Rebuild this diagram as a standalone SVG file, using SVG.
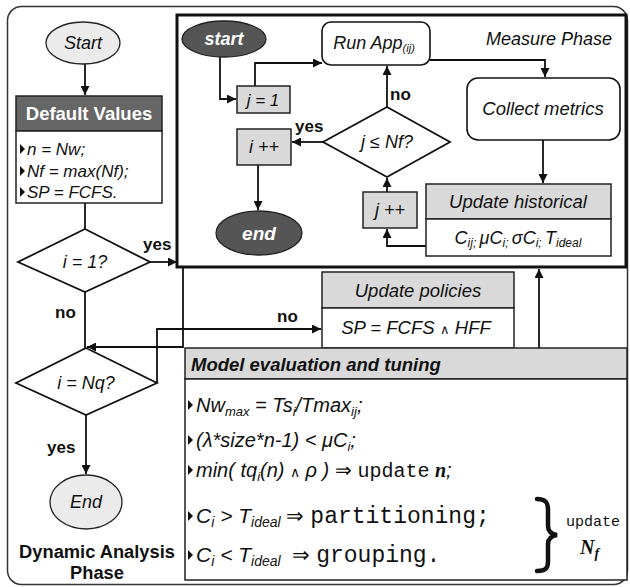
<svg xmlns="http://www.w3.org/2000/svg" width="630" height="587" viewBox="0 0 630 587">
  <style>
    .t { font-family: "Liberation Sans", Arial, sans-serif; fill: #111; }
    .it { font-style: italic; }
    .b { font-weight: bold; }
    .mono { font-family: "Liberation Mono", "Courier New", monospace; font-style: normal; }
    .ln { fill: none; stroke: #111; stroke-width: 1.8; }
    .box { stroke: #222; stroke-width: 1.5; }
    .lite { fill: #d9d9d9; }
    .wh { fill: #fff; }
  </style>
  <defs>
    <marker id="arr" viewBox="0 0 10 10" refX="10" refY="5" markerWidth="9" markerHeight="9" markerUnits="userSpaceOnUse" orient="auto">
      <path d="M0,0 L10,5 L0,10 z" fill="#111"/>
    </marker>
    <polygon id="bul" points="0,-5 5,0 0,5" fill="#111"/>
  </defs>

  <rect width="630" height="587" fill="#fff"/>

  <!-- outer frame of the dynamic analysis phase -->
  <rect id="frame" x="7.5" y="6.5" width="620" height="578" rx="14" fill="none" stroke="#333" stroke-width="1.5"/>

  <!-- measure phase container -->
  <g id="measure-phase">
    <rect x="177" y="15" width="449" height="252" fill="#fff" stroke="#111" stroke-width="3"/>
    <text class="t it" x="612" y="45" font-size="18" text-anchor="end">Measure Phase</text>
  </g>

  <!-- connectors -->
  <g id="connectors">
    <!-- left column -->
    <path class="ln" d="M85,64 V95" marker-end="url(#arr)"/>
    <path class="ln" d="M85,203 V229"/>
    <path class="ln" d="M150,262 H177" marker-end="url(#arr)"/>
    <path class="ln" d="M85,292 V348"/>
    <path class="ln" d="M183,268 V347 H87" marker-end="url(#arr)"/>
    <path class="ln" d="M157,383 V329 H321" marker-end="url(#arr)"/>
    <path class="ln" d="M86,415 V474" marker-end="url(#arr)"/>
    <!-- policies to model, model back to measure -->
    <path class="ln" d="M509,338 V362" marker-end="url(#arr)"/>
    <path class="ln" d="M539,348 V269" marker-end="url(#arr)"/>
    <!-- measure phase internals -->
    <path class="ln" d="M220,57 V99 H236" marker-end="url(#arr)"/>
    <path class="ln" d="M255,86 V63 H322" marker-end="url(#arr)"/>
    <path class="ln" d="M430,60 H545 V77" marker-end="url(#arr)"/>
    <path class="ln" d="M543,140 V183" marker-end="url(#arr)"/>
    <path class="ln" d="M426,246 H387 V229" marker-end="url(#arr)"/>
    <path class="ln" d="M387,192 V178" marker-end="url(#arr)"/>
    <path class="ln" d="M387,107 V66" marker-end="url(#arr)"/>
    <path class="ln" d="M323,142 H292" marker-end="url(#arr)"/>
    <path class="ln" d="M258,165 V210" marker-end="url(#arr)"/>
  </g>

  <!-- connector labels -->
  <g id="labels" class="t b" font-size="17">
    <text x="143" y="250">yes</text>
    <text x="55" y="318">no</text>
    <text x="277" y="322">no</text>
    <text x="47" y="453">yes</text>
    <text x="390" y="100">no</text>
    <text x="295" y="132">yes</text>
  </g>

  <!-- left column nodes -->
  <g id="start">
    <ellipse cx="83" cy="43" rx="37" ry="21" fill="#ebebeb" stroke="#222" stroke-width="1.3"/>
    <text class="t it" x="83" y="49" font-size="18" text-anchor="middle">Start</text>
  </g>

  <g id="default-values">
    <rect x="16" y="96" width="146" height="35" fill="#666" class="box"/>
    <text class="t b" x="89" y="120" font-size="18.5" text-anchor="middle" style="fill:#fff">Default Values</text>
    <rect x="16" y="131" width="146" height="72" class="box wh"/>
    <use href="#bul" x="20" y="149"/>
    <use href="#bul" x="20" y="171"/>
    <use href="#bul" x="20" y="192"/>
    <g class="t it" font-size="17">
      <text x="27" y="155">n = Nw;</text>
      <text x="27" y="177">Nf = max(Nf);</text>
      <text x="27" y="198">SP = FCFS.</text>
    </g>
  </g>

  <g id="cond-i1">
    <polygon points="85,229 150,262 85,292 18,262" fill="#fff" stroke="#111" stroke-width="1.8"/>
    <text class="t it" x="85" y="268" font-size="18" text-anchor="middle">i = 1?</text>
  </g>

  <g id="cond-inq">
    <polygon points="86,348 157,383 86,415 16,383" fill="#fff" stroke="#111" stroke-width="1.8"/>
    <text class="t it" x="86" y="389" font-size="18" text-anchor="middle">i = Nq?</text>
  </g>

  <g id="end">
    <ellipse cx="86" cy="502" rx="36" ry="27" fill="#ebebeb" stroke="#222" stroke-width="1.3"/>
    <text class="t it" x="86" y="508" font-size="18" text-anchor="middle">End</text>
  </g>

  <g id="phase-title" class="t b" font-size="18.3" text-anchor="middle">
    <text x="97" y="558">Dynamic Analysis</text>
    <text x="97" y="579">Phase</text>
  </g>

  <!-- measure phase nodes -->
  <g id="m-start">
    <ellipse cx="224" cy="39" rx="42" ry="18" fill="#555" stroke="#222" stroke-width="1.3"/>
    <text class="t it b" x="224" y="45" font-size="18" text-anchor="middle" style="fill:#fff">start</text>
  </g>

  <g id="j-init">
    <rect x="237" y="86" width="53" height="27" class="box lite"/>
    <text class="t it" x="263" y="106" font-size="17" text-anchor="middle">j = 1</text>
  </g>

  <g id="run-app">
    <rect x="322" y="22" width="108" height="43" rx="9" fill="#fff" stroke="#111" stroke-width="1.6"/>
    <text class="t it" x="374" y="49" font-size="18" text-anchor="middle">Run App<tspan font-size="11" dy="3">(ij)</tspan></text>
  </g>

  <g id="collect">
    <rect x="467" y="78" width="153" height="62" rx="11" fill="#fff" stroke="#111" stroke-width="1.6"/>
    <text class="t it" x="543" y="115" font-size="18.5" text-anchor="middle">Collect metrics</text>
  </g>

  <g id="cond-j">
    <polygon points="387,107 450,142 387,177 323,142" fill="#fff" stroke="#111" stroke-width="1.8"/>
    <text class="t it" x="387" y="148" font-size="18" text-anchor="middle">j ≤ Nf?</text>
  </g>

  <g id="i-inc">
    <rect x="237" y="129" width="54" height="36" class="box lite"/>
    <text class="t it" x="264" y="153" font-size="18" text-anchor="middle">i ++</text>
  </g>

  <g id="j-inc">
    <rect x="363" y="192" width="54" height="36" class="box lite"/>
    <text class="t it" x="390" y="216" font-size="18" text-anchor="middle">j ++</text>
  </g>

  <g id="m-end">
    <ellipse cx="259" cy="233" rx="43" ry="22" fill="#555" stroke="#222" stroke-width="1.3"/>
    <text class="t it b" x="259" y="240" font-size="19" text-anchor="middle" style="fill:#fff">end</text>
  </g>

  <g id="historical">
    <rect x="426" y="184" width="185" height="35" class="box lite"/>
    <text class="t it" x="518" y="208" font-size="18.5" text-anchor="middle">Update historical</text>
    <rect x="426" y="219" width="185" height="37" class="box wh"/>
    <text class="t it" x="518" y="244" font-size="18" text-anchor="middle">C<tspan font-size="12" dy="3">ij; </tspan><tspan dy="-3">μC</tspan><tspan font-size="12" dy="3">i; </tspan><tspan dy="-3">σC</tspan><tspan font-size="12" dy="3">i; </tspan><tspan dy="-3">T</tspan><tspan font-size="12" dy="3">ideal</tspan></text>
  </g>

  <!-- policy update -->
  <g id="policies">
    <rect x="322" y="272" width="192" height="36" class="box lite"/>
    <text class="t it" x="418" y="297" font-size="18.5" text-anchor="middle">Update policies</text>
    <rect x="322" y="308" width="192" height="40" class="box wh"/>
    <text class="t it" x="416" y="334" font-size="18.5" text-anchor="middle">SP = FCFS <tspan font-size="13" font-style="normal">∧</tspan> HFF</text>
  </g>

  <!-- model evaluation and tuning -->
  <g id="model">
    <rect x="185" y="348" width="442" height="31" class="box lite"/>
    <text class="t it b" x="191" y="371" font-size="18.5">Model evaluation and tuning</text>
    <rect x="185" y="379" width="442" height="201" class="box wh"/>
    <use href="#bul" x="188" y="405"/>
    <use href="#bul" x="188" y="440"/>
    <use href="#bul" x="188" y="470"/>
    <use href="#bul" x="188" y="516"/>
    <use href="#bul" x="188" y="555"/>
    <g class="t it" font-size="20">
      <text x="196" y="412">Nw<tspan font-size="13" dy="4">max</tspan><tspan dy="-4"> = Ts</tspan><tspan font-size="13" dy="4">i</tspan><tspan dy="-4">/Tmax</tspan><tspan font-size="13" dy="4">ij</tspan><tspan dy="-4">;</tspan></text>
      <text x="196" y="447">(λ*size*n-1) &lt; μC<tspan font-size="13" dy="4">i</tspan><tspan dy="-4">;</tspan></text>
      <text x="196" y="477">min( tq<tspan font-size="13" dy="4">i</tspan><tspan dy="-4">(n) </tspan><tspan font-size="14" font-style="normal">∧</tspan> ρ ) <tspan font-style="normal">⇒</tspan> <tspan class="mono" font-size="20">update</tspan> <tspan font-family="Liberation Serif, serif" font-weight="bold">n</tspan>;</text>
    </g>
    <g class="t it" font-size="21">
      <text x="196" y="523">C<tspan font-size="14" dy="4">i</tspan><tspan dy="-4"> &gt; T</tspan><tspan font-size="14" dy="4">ideal</tspan><tspan dy="-4" font-style="normal"> ⇒ </tspan><tspan class="mono" font-size="23">partitioning;</tspan></text>
      <text x="196" y="562">C<tspan font-size="14" dy="4">i</tspan><tspan dy="-4"> &lt; T</tspan><tspan font-size="14" dy="4">ideal</tspan><tspan dy="-4" font-style="normal">&#160; ⇒ </tspan><tspan class="mono" font-size="23">grouping.</tspan></text>
    </g>
    <!-- brace grouping the last two rules -->
    <path d="M537,499 C546,499 548,503 548,510 L548,526 C548,531 551,534 557,535 C551,536 548,539 548,544 L548,561 C548,568 546,571 537,571" fill="none" stroke="#111" stroke-width="4.5" stroke-linecap="round"/>
    <text class="t mono" x="566" y="526" font-size="15">update</text>
    <text x="580" y="554" font-family="Liberation Serif, serif" font-style="italic" font-weight="bold" font-size="20" fill="#111">N<tspan font-size="14" dy="4">f</tspan></text>
  </g>
</svg>
